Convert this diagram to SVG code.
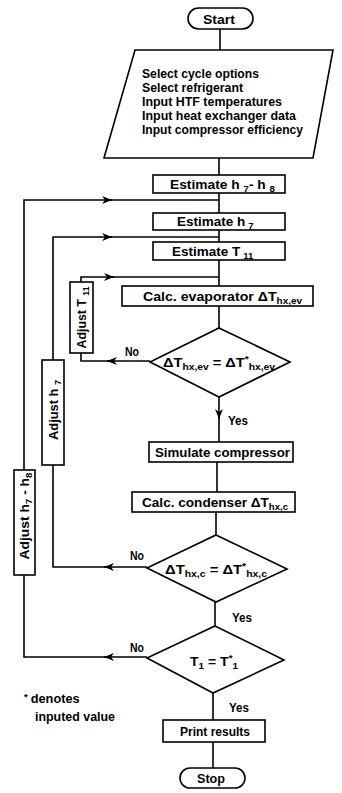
<svg xmlns="http://www.w3.org/2000/svg" width="342" height="793" viewBox="0 0 342 793">
<defs>
<style>
.box{fill:#fff;stroke:#000;stroke-width:1.6}
.ln{fill:none;stroke:#000;stroke-width:1.6}
text{font-family:"Liberation Sans",Arial,sans-serif;font-size:13.5px;fill:#000;font-weight:bold}
.c{text-anchor:middle}
.sub{font-size:9.5px}
</style>
<marker id="ah" markerUnits="userSpaceOnUse" markerWidth="12" markerHeight="10" refX="10" refY="4" orient="auto">
<path d="M0,0 L10,4 L0,8 L3,4 z" fill="#000"/>
</marker>
</defs>
<rect width="342" height="793" fill="#fff"/>

<g id="connectors">
<path class="ln" d="M220,29 V50"/>
<path class="ln" d="M219,158 V175"/>
<path class="ln" d="M219,193 V213"/>
<path class="ln" d="M219,230 V242"/>
<path class="ln" d="M219,260 V286"/>
<path class="ln" d="M219,306 V328"/>
<path class="ln" d="M219,397 V419" marker-end="url(#ah)"/>
<path class="ln" d="M219,417 V442"/>
<path class="ln" d="M217,462 V492"/>
<path class="ln" d="M216,512 V535"/>
<path class="ln" d="M215,602 V626"/>
<path class="ln" d="M213,693 V720"/>
<path class="ln" d="M213,742 V768"/>
<path class="ln" d="M147,657 H104" marker-end="url(#ah)"/>
<path class="ln" d="M106,657 H24 V575"/>
<path class="ln" d="M24,470 V200 H112" marker-end="url(#ah)"/>
<path class="ln" d="M110,200 H219"/>
<path class="ln" d="M147,567 H104" marker-end="url(#ah)"/>
<path class="ln" d="M106,567 H53 V465"/>
<path class="ln" d="M53,360 V237 H112" marker-end="url(#ah)"/>
<path class="ln" d="M110,237 H219"/>
<path class="ln" d="M150,361 H107" marker-end="url(#ah)"/>
<path class="ln" d="M109,361 H81 V353"/>
<path class="ln" d="M81,282 V277 H114" marker-end="url(#ah)"/>
<path class="ln" d="M112,277 H219"/>
</g>

<g id="start">
<rect class="box" x="188" y="8" width="65" height="21" rx="10.5"/>
<text x="203" y="23.5" textLength="32" lengthAdjust="spacingAndGlyphs">Start</text>
</g>

<g id="input">
<polygon class="box" points="135,50 333,50 313,158 104,158"/>
<text x="142" y="78" textLength="117" lengthAdjust="spacingAndGlyphs">Select cycle options</text>
<text x="142" y="92" textLength="101" lengthAdjust="spacingAndGlyphs">Select refrigerant</text>
<text x="142" y="106" textLength="140" lengthAdjust="spacingAndGlyphs">Input HTF temperatures</text>
<text x="142" y="120" textLength="154" lengthAdjust="spacingAndGlyphs">Input heat exchanger data</text>
<text x="142" y="134" textLength="161" lengthAdjust="spacingAndGlyphs">Input compressor efficiency</text>
</g>

<g id="est-h7h8">
<rect class="box" x="153" y="175" width="132" height="18"/>
<text x="170" y="189" textLength="105" lengthAdjust="spacingAndGlyphs">Estimate h <tspan class="sub" dy="3">7</tspan><tspan dy="-3">- h </tspan><tspan class="sub" dy="3">8</tspan></text>
</g>

<g id="est-h7">
<rect class="box" x="153" y="213" width="132" height="17"/>
<text x="177" y="226">Estimate h<tspan class="sub" dx="3" dy="2.5">7</tspan></text>
</g>

<g id="est-t11">
<rect class="box" x="153" y="242" width="132" height="18"/>
<text x="172" y="256">Estimate T<tspan class="sub" dx="3" dy="2.5">11</tspan></text>
</g>

<g id="calc-ev">
<rect class="box" x="122" y="286" width="191" height="20"/>
<text x="143" y="301" textLength="159" lengthAdjust="spacingAndGlyphs">Calc. evaporator ΔT<tspan class="sub" dy="3">hx,ev</tspan></text>
</g>

<g id="dec-ev">
<polygon class="box" points="219,328 290,362 219,397 150,362"/>
<text x="163" y="367" textLength="112" lengthAdjust="spacingAndGlyphs">ΔT<tspan class="sub" dy="3">hx,ev</tspan><tspan dy="-3"> = ΔT</tspan><tspan class="sub" dy="-5">*</tspan><tspan class="sub" dy="8">hx,ev</tspan></text>
<text x="125" y="356" textLength="14" lengthAdjust="spacingAndGlyphs">No</text>
<text x="228" y="425" textLength="20" lengthAdjust="spacingAndGlyphs">Yes</text>
</g>

<g id="sim-comp">
<rect class="box" x="149" y="442" width="144" height="20"/>
<text x="155" y="457" textLength="135" lengthAdjust="spacingAndGlyphs">Simulate compressor</text>
</g>

<g id="calc-c">
<rect class="box" x="132" y="492" width="163" height="20"/>
<text x="142" y="507" textLength="146" lengthAdjust="spacingAndGlyphs">Calc. condenser  ΔT<tspan class="sub" dy="3">hx,c</tspan></text>
</g>

<g id="dec-c">
<polygon class="box" points="216,535 287,569 216,602 147,568"/>
<text x="165" y="574" textLength="102" lengthAdjust="spacingAndGlyphs">ΔT<tspan class="sub" dy="3">hx,c</tspan><tspan dy="-3">  = ΔT</tspan><tspan class="sub" dy="-5">*</tspan><tspan class="sub" dy="8">hx,c</tspan></text>
<text x="130" y="560" textLength="14" lengthAdjust="spacingAndGlyphs">No</text>
<text x="232" y="622" textLength="20" lengthAdjust="spacingAndGlyphs">Yes</text>
</g>

<g id="dec-t1">
<polygon class="box" points="215,626 284,660 213,693 147,658"/>
<text x="190" y="666" textLength="48" lengthAdjust="spacingAndGlyphs">T<tspan class="sub" dy="3">1</tspan><tspan dy="-3"> = T</tspan><tspan class="sub" dy="-5">*</tspan><tspan class="sub" dy="8">1</tspan></text>
<text x="130" y="652" textLength="14" lengthAdjust="spacingAndGlyphs">No</text>
<text x="229" y="712" textLength="20" lengthAdjust="spacingAndGlyphs">Yes</text>
</g>

<g id="adj-t11">
<rect class="box" x="70" y="282" width="23" height="71"/>
<text class="c" transform="translate(86,317.5) rotate(-90)" textLength="62" lengthAdjust="spacingAndGlyphs">Adjust T <tspan class="sub" dy="3">11</tspan></text>
</g>

<g id="adj-h7">
<rect class="box" x="42" y="360" width="22" height="105"/>
<text class="c" transform="translate(58,410) rotate(-90)" textLength="60" lengthAdjust="spacingAndGlyphs">Adjust h <tspan class="sub" dy="3">7</tspan></text>
</g>

<g id="adj-h7h8">
<rect class="box" x="14" y="470" width="21" height="105"/>
<text class="c" transform="translate(29,516) rotate(-90)" textLength="87" lengthAdjust="spacingAndGlyphs">Adjust h<tspan class="sub" dy="3">7</tspan><tspan dy="-3"> - h</tspan><tspan class="sub" dy="3">8</tspan></text>
</g>

<g id="note">
<text x="24" y="703"><tspan class="sub" dy="-3">*</tspan><tspan dx="3" dy="3" textLength="49" lengthAdjust="spacingAndGlyphs">denotes</tspan></text>
<text x="35" y="721" textLength="80" lengthAdjust="spacingAndGlyphs">inputed value</text>
</g>

<g id="print">
<rect class="box" x="163" y="720" width="102" height="22"/>
<text x="180" y="736" textLength="70" lengthAdjust="spacingAndGlyphs">Print results</text>
</g>

<g id="stop">
<rect class="box" x="180" y="768" width="65" height="20" rx="10"/>
<text x="197" y="783" textLength="28" lengthAdjust="spacingAndGlyphs">Stop</text>
</g>
</svg>
